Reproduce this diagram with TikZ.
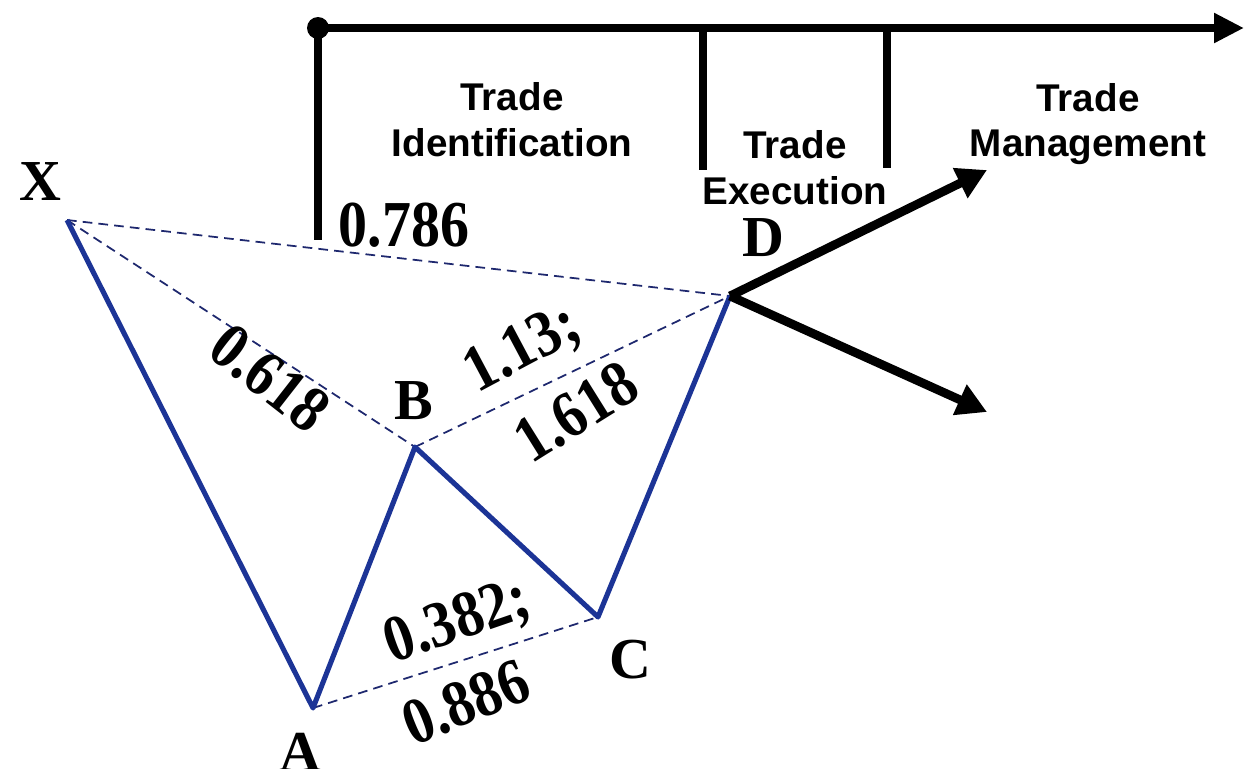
\documentclass[tikz,border=0pt]{standalone}
\usepackage{fontspec}
\usepackage{graphicx}
\setmainfont{Liberation Serif}
\newfontfamily\sansf{Liberation Sans}
\usetikzlibrary{arrows.meta}
\definecolor{patblue}{RGB}{28,52,150}
\definecolor{dashblue}{RGB}{30,40,110}
\newcommand{\tallnum}[1]{\scalebox{1}[1.13]{#1}}
\tikzset{
  leg/.style={draw=patblue, line width=2.9pt, line join=round},
  ratio/.style={draw=dashblue, line width=1pt, dash pattern=on 5.5pt off 3.5pt},
  pointlbl/.style={font=\bfseries\fontsize{33}{35}\selectfont, inner sep=0pt},
  numlbl/.style={font=\bfseries\fontsize{33}{35}\selectfont, inner sep=0pt},
  phase/.style={font=\sansf\bfseries\fontsize{22}{26}\selectfont, align=center, inner sep=0pt},
  timeline/.style={draw=black, line width=4.5pt},
  tick/.style={draw=black, line width=4pt},
  outarrow/.style={draw=black, line width=5pt, -{Triangle[length=17pt, width=18pt]}}
}
\begin{document}
\begin{tikzpicture}[x=0.02cm, y=-0.02cm]
\useasboundingbox (0,0) rectangle (1247,768);
\clip (0,0) rectangle (1247,768);
% pattern points
\coordinate (X) at (67,220);
\coordinate (A) at (313,708);
\coordinate (B) at (415,447);
\coordinate (C) at (598,617);
\coordinate (D) at (730,296);
% timeline
\coordinate (T0) at (318,28);
\coordinate (T1) at (1244,28);
\coordinate (V0) at (318,240);
\coordinate (E0) at (703,28);
\coordinate (E1) at (703,170);
\coordinate (M0) at (887,28);
\coordinate (M1) at (887,168);
\coordinate (U) at (987,170);
\coordinate (L) at (987,412);

% dashed ratio lines
\draw[ratio] (X) -- (D);
\draw[ratio] (X) -- (B);
\draw[ratio] (B) -- (D);
\draw[ratio] (A) -- (C);

% pattern legs
\draw[leg] (X) -- (A) -- (B) -- (C) -- (D);

% timeline
\draw[timeline, -{Triangle[length=17pt, width=16pt]}] (T0) -- (T1);
\draw[tick] (T0) -- (V0);
\draw[tick] (E0) -- (E1);
\draw[tick] (M0) -- (M1);
\fill (T0) circle (11);

% outcome arrows
\draw[outarrow] (D) -- (U);
\draw[outarrow] (D) -- (L);

% point labels
\node[pointlbl] (lX) at (40,182) {X};
\node[pointlbl] (lA) at (300,752) {A};
\node[pointlbl] (lB) at (414,401) {B};
\node[pointlbl] (lC) at (630,660) {C};
\node[pointlbl] (lD) at (763,238) {D};

% ratio labels
\node[numlbl] (r786) at (404,225) {\tallnum{0.786}};
\node[numlbl, rotate=-38] (r618) at (270,378) {\tallnum{0.618}};
\node[numlbl, rotate=28] (r113) at (523,350) {\tallnum{1.13;}};
\node[numlbl, rotate=32] (r1618) at (576,412) {\tallnum{1.618}};
\node[numlbl, rotate=19] (r382) at (458,623) {\tallnum{0.382;}};
\node[numlbl, rotate=22] (r886) at (466,702) {\tallnum{0.886}};

% phase labels
\node[phase] (pid) at (512,120) {Trade\\Identification};
\node[phase] (pex) at (795,168) {Trade\\Execution};
\node[phase] (pmg) at (1088,124) {Trade\\Management};
\end{tikzpicture}
\end{document}
